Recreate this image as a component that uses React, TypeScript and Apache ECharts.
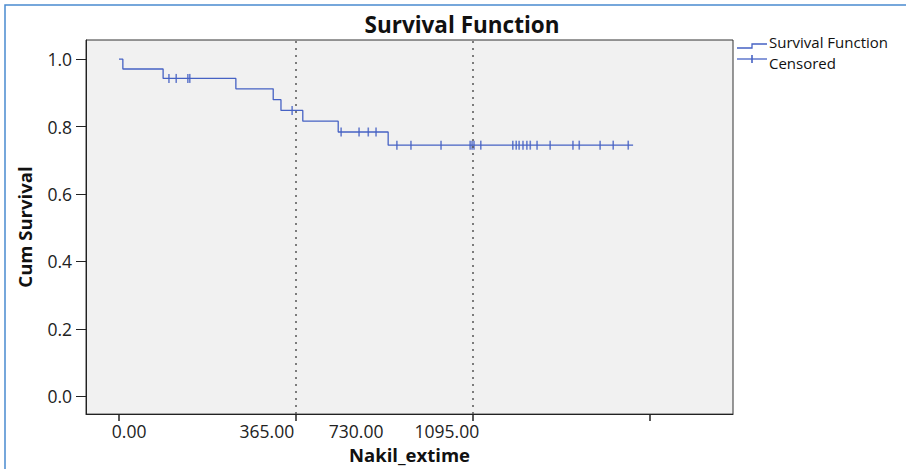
import React, { useEffect, useRef } from "react";
import * as echarts from "echarts";

// Kaplan–Meier step curve: times where the curve drops, and the level after each drop
const eventDays = [0, 8, 91, 241, 318, 334, 379, 452, 555];
const survival = [1.0, 0.971, 0.943, 0.912, 0.88, 0.848, 0.816, 0.784, 0.745];
const lastDay = 1060;

// Censored observations (days)
const censoredDays = [
  103, 118, 142, 146, 357, 458, 495, 514, 530, 573, 602, 664, 724, 728, 732,
  746, 812, 819, 825, 833, 841, 848, 862, 889, 936, 949, 992, 1019, 1050,
];

// Axes
const xTickDays = [0, 365, 730, 1095];
const xTickLabels = ["0.00", "365.00", "730.00", "1095.00"];
const xLabelAnchorDays = [21, 305, 489, 676];
const yTicks = [0, 0.2, 0.4, 0.6, 0.8, 1.0];
const referenceDays = [365, 730];
const legendNames = ["Survival Function", "Censored"];

const FONT = '"Open Sans", "Noto Sans", sans-serif';
const BLUE = "#4662c4";

export default function App() {
  const ref = useRef<HTMLDivElement>(null);

  useEffect(() => {
    document.body.style.margin = "0";
    const chart = echarts.init(ref.current!, null, { renderer: "svg" });

    const stepData: number[][] = eventDays.map((d, i) => [d, survival[i]]);
    stepData.push([lastDay, survival[survival.length - 1]]);

    const levelAt = (d: number) => {
      let v = survival[0];
      for (let i = 0; i < eventDays.length; i++) if (eventDays[i] <= d) v = survival[i];
      return v;
    };
    const censorData = censoredDays.map((d) => [d, levelAt(d)]);

    chart.setOption({
      animation: false,
      backgroundColor: "#ffffff",
      grid: {
        left: 86,
        top: 40,
        width: 647,
        height: 379,
        show: true,
        backgroundColor: "#f1f1f1",
        borderColor: "#333",
        borderWidth: 1,
      },
      xAxis: {
        type: "value",
        min: -68,
        max: 1266,
        axisLine: { show: true, onZero: false, lineStyle: { color: "#222", width: 1 } },
        axisTick: {
          show: true,
          customValues: xTickDays,
          length: 7,
          lineStyle: { color: "#222", width: 1.5 },
        },
        axisLabel: {
          customValues: xLabelAnchorDays,
          formatter: (v: number) => {
            const i = xLabelAnchorDays.indexOf(v);
            return i >= 0 ? xTickLabels[i] : "";
          },
          color: "#222",
          fontSize: 17.5,
          fontFamily: FONT,
          margin: 8,
        },
        splitLine: { show: false },
        name: "Nakil_extime",
        nameLocation: "middle",
        nameGap: 30,
        nameTextStyle: { fontSize: 18.5, fontWeight: "bold", color: "#111", fontFamily: FONT },
      },
      yAxis: {
        type: "value",
        min: -0.053,
        max: 1.057,
        axisLine: { show: true, onZero: false, lineStyle: { color: "#222", width: 1 } },
        axisTick: {
          show: true,
          customValues: yTicks,
          length: 10,
          lineStyle: { color: "#222", width: 1 },
        },
        axisLabel: {
          customValues: yTicks,
          formatter: (v: number) => v.toFixed(1),
          color: "#222",
          fontSize: 17.5,
          fontFamily: FONT,
          margin: 14,
        },
        splitLine: { show: false },
        name: "Cum Survival",
        nameLocation: "middle",
        nameGap: 52,
        nameRotate: 90,
        nameTextStyle: { fontSize: 18.5, fontWeight: "bold", color: "#111", fontFamily: FONT },
      },
      series: [
        {
          name: "Survival Function",
          type: "line",
          step: "end",
          data: stepData,
          symbol: "none",
          lineStyle: { color: BLUE, width: 1.3 },
          markLine: {
            silent: true,
            symbol: "none",
            label: { show: false },
            lineStyle: { color: "#555", type: [2, 5], width: 1.5 },
            data: referenceDays.map((d) => ({ xAxis: d })),
          },
        },
        {
          name: "Censored",
          type: "scatter",
          data: censorData,
          symbol: "rect",
          symbolSize: [1.6, 9],
          itemStyle: { color: BLUE },
        },
      ],
      graphic: [
        {
          type: "polyline",
          shape: { points: [[5, 469], [5, 5], [906, 5]] },
          style: { stroke: "#4a8ad0", lineWidth: 1.5, fill: "none" },
        },
        {
          type: "text",
          x: 462,
          y: 24,
          style: {
            text: "Survival Function",
            align: "center",
            verticalAlign: "middle",
            font: `bold 22.5px ${FONT}`,
            fill: "#111",
          },
        },
        {
          type: "polyline",
          shape: { points: [[737, 48], [752, 48], [752, 44], [767, 44]] },
          style: { stroke: BLUE, lineWidth: 1.3, fill: "none" },
        },
        {
          type: "line",
          shape: { x1: 737, y1: 59, x2: 767, y2: 59 },
          style: { stroke: BLUE, lineWidth: 1.3 },
        },
        {
          type: "line",
          shape: { x1: 752, y1: 55, x2: 752, y2: 63 },
          style: { stroke: BLUE, lineWidth: 1.6 },
        },
        {
          type: "text",
          x: 769,
          y: 42,
          style: {
            text: legendNames[0],
            align: "left",
            verticalAlign: "middle",
            font: `15px ${FONT}`,
            fill: "#111",
          },
        },
        {
          type: "text",
          x: 769,
          y: 63,
          style: {
            text: legendNames[1],
            align: "left",
            verticalAlign: "middle",
            font: `15px ${FONT}`,
            fill: "#111",
          },
        },
      ],
    });

    return () => chart.dispose();
  }, []);

  return <div ref={ref} style={{ width: 906, height: 469 }} />;
}
